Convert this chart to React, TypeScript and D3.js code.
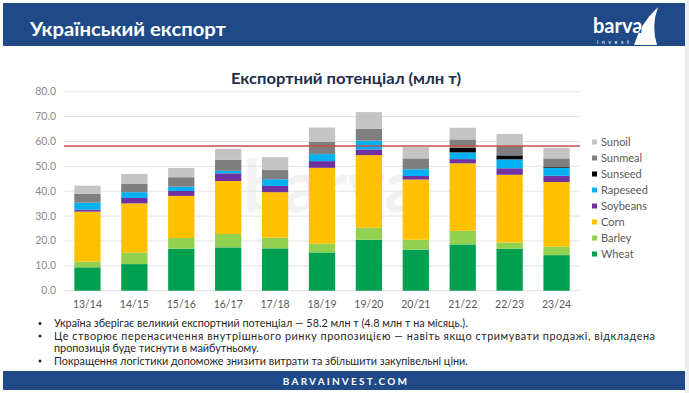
import * as d3 from "d3";

const categories = ["13/14", "14/15", "15/16", "16/17", "17/18", "18/19", "19/20", "20/21", "21/22", "22/23", "23/24"];

const wheat = [9.4, 10.7, 16.9, 17.4, 17.0, 15.4, 20.5, 16.5, 18.6, 16.9, 14.3];
const barley = [2.3, 4.6, 4.3, 5.4, 4.3, 3.5, 4.8, 4.0, 5.5, 2.5, 3.4];
const corn = [20.1, 19.8, 16.9, 21.3, 18.3, 30.5, 29.2, 24.2, 27.1, 27.2, 26.0];
const soybeans = [0.8, 2.2, 2.0, 3.1, 2.5, 2.7, 2.3, 1.4, 1.7, 2.6, 2.5];
const rapeseed = [2.8, 2.3, 1.7, 1.0, 2.7, 2.8, 3.5, 2.7, 2.7, 3.6, 3.2];
const sunseed = [0, 0, 0, 0, 0, 0, 0, 0, 1.9, 1.6, 0.3];
const sunmeal = [3.6, 3.3, 3.8, 4.5, 3.7, 4.9, 4.8, 4.4, 3.3, 3.8, 3.5];
const sunoil = [3.2, 4.0, 3.7, 4.4, 5.2, 5.8, 6.7, 4.6, 4.7, 4.8, 4.3];

const seriesNames = ["Wheat", "Barley", "Corn", "Soybeans", "Rapeseed", "Sunseed", "Sunmeal", "Sunoil"];
const seriesValues = [wheat, barley, corn, soybeans, rapeseed, sunseed, sunmeal, sunoil];
const seriesColors = ["#00a050", "#92d050", "#ffc000", "#7030a0", "#00b0f0", "#000000", "#7f7f7f", "#c4c4c4"];

const yTicks = [0, 10, 20, 30, 40, 50, 60, 70, 80];
const potential = 58.2;

const bullets = [
  "Україна зберігає великий експортний потенціал — 58.2 млн т (4.8 млн т на місяць.).",
  "Це створює перенасичення внутрішнього ринку пропозицією — навіть якщо стримувати продажі, відкладена",
  "пропозиція буде тиснути в майбутньому.",
  "Покращення логістики допоможе знизити витрати та збільшити закупівельні ціни.",
];

const W = 689;
const H = 393;
const NAVY = "#1f4a87";
const FONT = "Lato, 'Open Sans', sans-serif";
const SAIL = "M658 7 Q640 24 634 45 L657 45 Q651 26 658 7 Z";

export default function App() {
  const rows = categories.map((c, i) => {
    const r: Record<string, any> = { cat: c };
    seriesNames.forEach((n, k) => (r[n] = seriesValues[k][i]));
    return r;
  });
  const stack = d3.stack().keys(seriesNames)(rows as any);

  const x = d3.scaleBand().domain(categories).range([64, 580]).paddingInner(0.44).paddingOuter(0.22);
  const y = d3.scaleLinear().domain([0, 80]).range([290.7, 91.7]);

  return (
    <svg width={W} height={H} style={{ position: "absolute", left: 0, top: 0, fontFamily: FONT }}>
      <defs>
        <clipPath id="sail">
          <path d={SAIL} />
        </clipPath>
      </defs>
      <rect width={W} height={H} fill="#ffffff" />
      <rect x={685} y={0} width={4} height={H} fill="#eeeeee" />

      {/* header */}
      <rect x={3} y={3} width={682} height={43} fill={NAVY} />
      <text x={30} y={36} fill="#ffffff" fontSize={19} fontWeight="bold" textLength={196} lengthAdjust="spacingAndGlyphs">
        Український експорт
      </text>
      <path d={SAIL} fill="#ffffff" />
      <text x={593} y={33} fill="#ffffff" fontSize={20} fontWeight="bold">barva</text>
      <g clipPath="url(#sail)">
        <text x={593} y={33} fill={NAVY} fontSize={20} fontWeight="bold">barva</text>
      </g>
      <text x={597} y={43.5} fill="#ffffff" fontSize={5.5} letterSpacing={3.5}>invest</text>

      <text x={346} y={84} textAnchor="middle" fill="#1f2d4d" fontSize={16} fontWeight="bold" textLength={230} lengthAdjust="spacingAndGlyphs">
        Експортний потенціал (млн т)
      </text>

      {/* watermark */}
      <text x={243} y={212} fill="#f1f1f1" fontSize={72} fontWeight="bold">barva</text>

      {/* grid */}
      {yTicks.map((t) => (
        <g key={t}>
          <line x1={64} x2={580} y1={y(t)} y2={y(t)} stroke="#e2e2e2" strokeWidth={1} />
          <text x={56} y={y(t) + 3.5} textAnchor="end" fill="#8a8a8a" fontSize={10.5}>
            {t.toFixed(1)}
          </text>
        </g>
      ))}

      {/* bars */}
      {stack.map((s, k) => (
        <g key={seriesNames[k]} fill={seriesColors[k]}>
          {s.map((d, i) =>
            d[1] - d[0] > 0 ? (
              <rect
                key={i}
                x={x(categories[i])}
                width={x.bandwidth()}
                y={y(d[1])}
                height={y(d[0]) - y(d[1])}
              />
            ) : null
          )}
        </g>
      ))}

      <line x1={64} x2={580} y1={y(potential)} y2={y(potential)} stroke="#c0504d" strokeWidth={1.4} />

      {categories.map((c) => (
        <text key={c} x={(x(c) ?? 0) + x.bandwidth() / 2} y={308} textAnchor="middle" fill="#595959" fontSize={10.5}>
          {c}
        </text>
      ))}

      {/* legend */}
      {seriesNames
        .slice()
        .reverse()
        .map((n, j) => {
          const k = seriesNames.indexOf(n);
          const cy = 142 + j * 16;
          return (
            <g key={n}>
              <rect x={592} y={cy - 2.5} width={5} height={5} fill={seriesColors[k]} />
              <text x={601} y={cy + 4} fill="#595959" fontSize={11}>{n}</text>
            </g>
          );
        })}

      {/* bullets */}
      {bullets.map((b, i) => {
        const by = [327, 339.5, 352, 364.5][i];
        return (
          <g key={i}>
            {i !== 2 && <circle cx={40} cy={by - 3.5} r={1.5} fill="#262626" />}
            <text
              x={54}
              y={by}
              fill="#262626"
              fontSize={10.8}
              {...(i === 1 ? { textLength: 601, lengthAdjust: "spacing" } : {})}
            >
              {b}
            </text>
          </g>
        );
      })}

      {/* footer */}
      <rect x={3} y={371} width={682} height={19} fill={NAVY} />
      <text x={346} y={384.5} textAnchor="middle" fill="#ffffff" fontSize={10} fontWeight="bold" letterSpacing={2.2}>
        BARVAINVEST.COM
      </text>
    </svg>
  );
}
